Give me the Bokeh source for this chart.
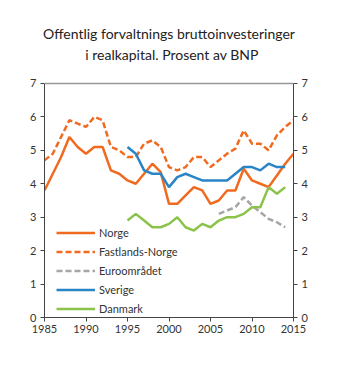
from bokeh.plotting import figure
from bokeh.models import (LinearAxis, FixedTicker, Range1d, Legend, LegendItem, Span, Label)
from bokeh.embed import file_html
from bokeh.resources import INLINE

years = list(range(1985, 2016))
norge = [3.8, 4.3, 4.8, 5.4, 5.1, 4.9, 5.1, 5.1, 4.4, 4.3, 4.1, 4.0, 4.3, 4.6, 4.35,
         3.4, 3.4, 3.65, 3.9, 3.8, 3.4, 3.5, 3.8, 3.8, 4.45, 4.1, 4.0, 3.9, 4.25, 4.6, 4.9]
fastland = [4.7, 4.9, 5.4, 5.9, 5.8, 5.7, 6.0, 5.9, 5.1, 5.0, 4.8, 4.8, 5.2, 5.3, 5.1,
            4.5, 4.4, 4.5, 4.8, 4.8, 4.5, 4.7, 4.9, 5.05, 5.6, 5.2, 5.2, 5.0, 5.45, 5.7, 5.9]
euro_years = list(range(2006, 2015))
euro = [3.1, 3.2, 3.3, 3.6, 3.35, 3.15, 2.95, 2.85, 2.7]
sve_years = list(range(1995, 2015))
sverige = [5.1, 4.9, 4.4, 4.3, 4.3, 3.9, 4.2, 4.3, 4.2, 4.1, 4.1, 4.1, 4.1, 4.3, 4.5,
           4.5, 4.4, 4.6, 4.5, 4.5]
dk_years = list(range(1995, 2015))
danmark = [2.9, 3.1, 2.9, 2.7, 2.7, 2.8, 3.0, 2.7, 2.6, 2.8, 2.7, 2.9, 3.0, 3.0, 3.1,
           3.3, 3.3, 3.9, 3.7, 3.9]

x_ticks = [1985, 1990, 1995, 2000, 2005, 2010, 2015]
y_ticks = [0, 1, 2, 3, 4, 5, 6, 7]
title_lines = ["Offentlig forvaltnings bruttoinvesteringer", "i realkapital. Prosent av BNP"]

ORANGE = "#F06A1F"
BLUE = "#2A85C6"
GREEN = "#8BC34A"
GRAY = "#A6A6A6"
FONT = "Lato"

# frame extends a little above the value axis (0-7) to hold the second title line
p = figure(width=345, height=383, output_backend="svg", toolbar_location=None,
           x_range=Range1d(1985, 2015), y_range=Range1d(0, 8.136),
           min_border_left=44, min_border_right=52, min_border_top=45, min_border_bottom=66)
p.outline_line_color = None
p.xgrid.grid_line_color = None
p.ygrid.grid_line_color = None

p.title.text = title_lines[0]
p.title.align = "center"
p.title.standoff = 8
p.title.text_font = FONT
p.title.text_font_size = "14px"
p.title.text_font_style = "normal"
p.title.text_color = "#222222"

p.add_layout(Label(x=2000.36, y=7, y_offset=29, text=title_lines[1], text_align="center",
                   text_baseline="middle", text_font=FONT, text_font_size="14px",
                   text_color="#222222"))

r1 = p.line(years, norge, line_color=ORANGE, line_width=2.5)
r2 = p.line(years, fastland, line_color=ORANGE, line_width=2.5, line_dash="6 3")
r3 = p.line(euro_years, euro, line_color=GRAY, line_width=2.5, line_dash="6 3")
r4 = p.line(sve_years, sverige, line_color=BLUE, line_width=2.5)
r5 = p.line(dk_years, danmark, line_color=GREEN, line_width=2.5)

p.add_layout(LinearAxis(), "right")

for ax in p.yaxis:
    ax.bounds = (0, 7)
    ax.ticker = FixedTicker(ticks=y_ticks)
    ax.minor_tick_line_color = None
    ax.major_tick_in = 0
    ax.major_tick_out = 4
    ax.axis_line_color = "#444444"
    ax.major_tick_line_color = "#444444"
    ax.major_label_text_font = FONT
    ax.major_label_text_font_size = "11px"
    ax.major_label_text_color = "#333333"
    ax.major_label_standoff = 4

for ax in p.xaxis:
    ax.ticker = FixedTicker(ticks=x_ticks)
    ax.minor_tick_line_color = None
    ax.major_tick_in = 0
    ax.major_tick_out = 4
    ax.axis_line_color = "#444444"
    ax.major_tick_line_color = "#444444"
    ax.major_label_text_font = FONT
    ax.major_label_text_font_size = "11px"
    ax.major_label_text_color = "#333333"
    ax.major_label_standoff = 3

p.add_layout(Span(location=7, dimension="width", line_color="#999999", line_width=1.5))

legend = Legend(items=[
    LegendItem(label="Norge", renderers=[r1]),
    LegendItem(label="Fastlands-Norge", renderers=[r2]),
    LegendItem(label="Euroområdet", renderers=[r3]),
    LegendItem(label="Sverige", renderers=[r4]),
    LegendItem(label="Danmark", renderers=[r5]),
], location=(12, 0), padding=0, margin=0, spacing=2, glyph_width=39, glyph_height=17,
    label_height=17, label_standoff=4, label_text_font=FONT, label_text_font_size="11px",
    label_text_color="#333333", border_line_color=None, background_fill_alpha=0)
p.add_layout(legend)

open("out.html", "w").write(file_html(p, INLINE))
